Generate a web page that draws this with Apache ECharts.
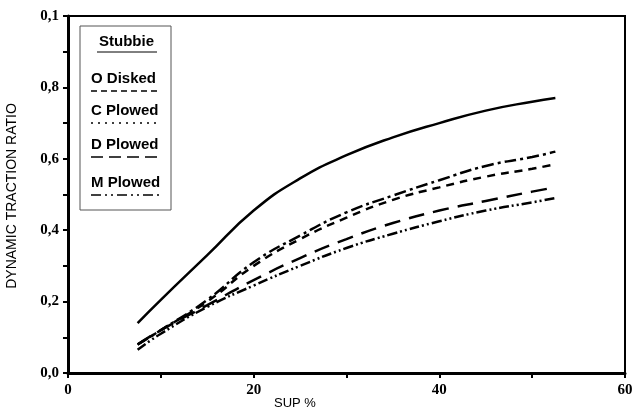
<!DOCTYPE html>
<html>
<head>
<meta charset="utf-8">
<script src="https://cdn.jsdelivr.net/npm/echarts@6/dist/echarts.min.js"></script>
<style>
  html, body { margin: 0; padding: 0; background: #fff; }
  #main { width: 639px; height: 414px; }
</style>
</head>
<body>
<div id="main"></div>
<script>
// SUP % values (x)
var sup = [7.5, 10, 15, 20, 25, 30, 35, 40, 45, 50, 52.5];

// dynamic traction ratio per curve
var stubbie  = [0.14, 0.205, 0.33, 0.455, 0.545, 0.61, 0.66, 0.70, 0.735, 0.76, 0.77];
var cPlowed  = [0.08, 0.12, 0.205, 0.31, 0.385, 0.45, 0.497, 0.54, 0.58, 0.605, 0.62];
var oDisked  = [0.08, 0.12, 0.20, 0.30, 0.375, 0.435, 0.485, 0.52, 0.55, 0.572, 0.585];
var dPlowed  = [0.08, 0.12, 0.19, 0.26, 0.322, 0.375, 0.42, 0.455, 0.482, 0.508, 0.52];
var mPlowed  = [0.065, 0.11, 0.185, 0.245, 0.30, 0.35, 0.39, 0.425, 0.455, 0.478, 0.49];

// tick labels as printed
var yTickLabels = ['0,0', '0,2', '0,4', '0,6', '0,8', '0,1'];
var xTickLabels = ['0', '20', '40', '60'];

var legendNames = ['O Disked', 'C Plowed', 'D Plowed', 'M Plowed'];

function pairs(ys) {
    return sup.map(function (x, i) { return [x, ys[i]]; });
}

var chart = echarts.init(document.getElementById('main'));

function lineSeries(name, ys, dash) {
    return {
        name: name,
        type: 'line',
        data: pairs(ys),
        smooth: true,
        showSymbol: false,
        lineStyle: { color: '#000', width: 2.5, type: dash }
    };
}

// legend box drawn by hand
var legendItems = [];
var legY = [80, 112, 146, 184];
var legDash = [[6, 4], [2, 5], [12, 6], [10, 4, 2, 4, 2, 4]];
legendNames.forEach(function (n, i) {
    legendItems.push({
        type: 'text',
        left: 91, top: legY[i] - 9,
        style: { text: n, font: '600 15px "Liberation Sans"', fill: '#000' }
    });
    legendItems.push({
        type: 'line',
        shape: { x1: 91, y1: legY[i] + 11, x2: 160, y2: legY[i] + 11 },
        style: { stroke: '#000', lineWidth: 1.5, lineDash: legDash[i] }
    });
});

var option = {
    animation: false,
    grid: {
        left: 68, right: 14, top: 16, bottom: 41,
        show: true, borderColor: '#000', borderWidth: 2
    },
    xAxis: {
        type: 'value',
        min: 0, max: 60, interval: 10,
        axisLine: { lineStyle: { color: '#000', width: 3 } },
        axisTick: { show: true, length: 5, lineStyle: { color: '#000', width: 2 } },
        splitLine: { show: false },
        axisLabel: {
            margin: 10,
            color: '#000',
            fontFamily: 'Liberation Serif', fontWeight: 'bold', fontSize: 15,
            formatter: function (v) {
                return v % 20 === 0 ? xTickLabels[v / 20] : '';
            }
        }
    },
    yAxis: {
        type: 'value',
        min: 0, max: 1, interval: 0.1,
        axisLine: { lineStyle: { color: '#000', width: 3 } },
        axisTick: { show: true, length: 5, lineStyle: { color: '#000', width: 2 } },
        splitLine: { show: false },
        axisLabel: {
            margin: 9,
            color: '#000',
            fontFamily: 'Liberation Serif', fontWeight: 'bold', fontSize: 15,
            formatter: function (v) {
                var k = Math.round(v * 10);
                return k % 2 === 0 ? yTickLabels[k / 2] : '';
            }
        }
    },
    series: [
        lineSeries('Stubbie', stubbie, 'solid'),
        lineSeries('C Plowed', cPlowed, [12, 4, 3, 4]),
        lineSeries('O Disked', oDisked, [8, 6]),
        lineSeries('D Plowed', dPlowed, [16, 9]),
        lineSeries('M Plowed', mPlowed, [10, 3, 2, 3, 2, 3])
    ],
    graphic: [
        {
            type: 'text',
            left: 274, top: 397,
            style: { text: 'SUP %', font: '13px "Liberation Sans"', fill: '#000' }
        },
        {
            type: 'text',
            x: 12, y: 196,
            rotation: Math.PI / 2,
            style: {
                text: 'DYNAMIC TRACTION RATIO',
                font: '14px "Liberation Sans"', fill: '#000',
                align: 'center', verticalAlign: 'middle'
            }
        },
        {
            type: 'rect',
            shape: { x: 80, y: 26, width: 91, height: 184 },
            style: { fill: '#fff', stroke: '#555', lineWidth: 1 }
        },
        {
            type: 'text',
            left: 99, top: 34,
            style: { text: 'Stubbie', font: '600 15px "Liberation Sans"', fill: '#000' }
        },
        {
            type: 'line',
            shape: { x1: 97, y1: 52, x2: 157, y2: 52 },
            style: { stroke: '#000', lineWidth: 1 }
        }
    ].concat(legendItems)
};

chart.setOption(option);
</script>
</body>
</html>
